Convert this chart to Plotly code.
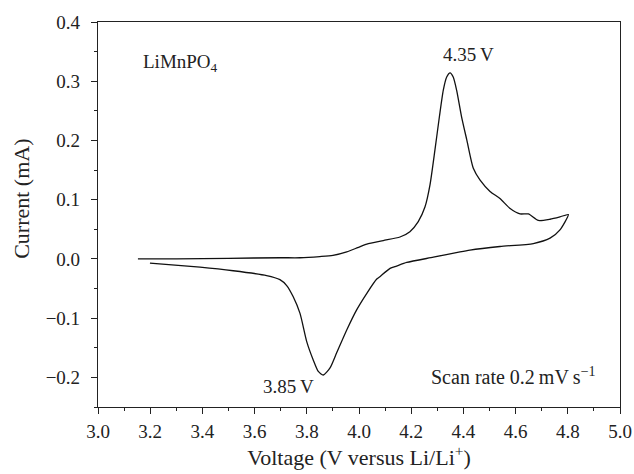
import plotly.graph_objects as go

# Anodic sweep (3.15 -> 4.8 V)
v_anodic = [3.153, 3.30, 3.50, 3.70, 3.774, 3.85, 3.90, 3.953, 3.995, 4.03, 4.093, 4.157, 4.195,
            4.227, 4.253, 4.272, 4.291, 4.308, 4.323, 4.336, 4.349, 4.361, 4.374, 4.393,
            4.413, 4.438, 4.464, 4.502, 4.540, 4.579, 4.617, 4.649, 4.687, 4.732, 4.770, 4.802]
i_anodic = [0.000, 0.000, 0.001, 0.002, 0.002, 0.004, 0.006, 0.012, 0.019, 0.025, 0.031, 0.037, 0.046,
            0.063, 0.088, 0.125, 0.184, 0.240, 0.285, 0.307, 0.314, 0.307, 0.285, 0.240,
            0.201, 0.153, 0.133, 0.114, 0.102, 0.085, 0.076, 0.076, 0.065, 0.067, 0.071, 0.075]
# Cathodic sweep (4.8 -> 3.2 V)
v_cathodic = [4.802, 4.770, 4.732, 4.668, 4.540, 4.425, 4.387, 4.285, 4.183, 4.144, 4.119, 4.080,
              4.068, 4.030, 3.991, 3.953, 3.914, 3.889, 3.863, 3.844, 3.825, 3.800, 3.774,
              3.748, 3.723, 3.697, 3.646, 3.518, 3.391, 3.199]
i_cathodic = [0.075, 0.049, 0.035, 0.026, 0.021, 0.015, 0.012, 0.003, -0.006, -0.012, -0.016, -0.030,
              -0.034, -0.058, -0.086, -0.120, -0.159, -0.184, -0.196, -0.190, -0.171, -0.140, -0.092,
              -0.064, -0.045, -0.035, -0.028, -0.020, -0.014, -0.007]

x_ticks = [3.0, 3.2, 3.4, 3.6, 3.8, 4.0, 4.2, 4.4, 4.6, 4.8, 5.0]
x_tick_labels = ["3.0", "3.2", "3.4", "3.6", "3.8", "4.0", "4.2", "4.4", "4.6", "4.8", "5.0"]
y_ticks = [-0.2, -0.1, 0.0, 0.1, 0.2, 0.3, 0.4]
y_tick_labels = ["\u22120.2", "\u22120.1", "0.0", "0.1", "0.2", "0.3", "0.4"]

FONT = "Liberation Serif, DejaVu Serif, serif"
INK = "#222222"

fig = go.Figure()
fig.add_trace(go.Scatter(
    x=v_anodic + v_cathodic[1:], y=i_anodic + i_cathodic[1:],
    mode="lines", line=dict(color="#111111", width=1.3, shape="spline", smoothing=0.6),
    showlegend=False, hoverinfo="skip"))

axis_common = dict(showline=True, linecolor=INK, linewidth=1.2, mirror=True,
                   showgrid=False, zeroline=False, ticks="outside", tickcolor=INK,
                   tickwidth=1.2, ticklen=6, automargin=False,
                   tickfont=dict(family=FONT, size=19, color=INK))

fig.update_xaxes(range=[3.0, 5.0], tickvals=x_ticks, ticktext=x_tick_labels,
                 ticklabelstandoff=1,
                 minor=dict(ticks="outside", dtick=0.1, ticklen=3, tickcolor=INK, tickwidth=1.2),
                 title=dict(text="Voltage (V versus Li/Li<sup>+</sup>)",
                            font=dict(family=FONT, size=22, color=INK), standoff=4),
                 **axis_common)
fig.update_yaxes(range=[-0.25, 0.4], tickvals=y_ticks, ticktext=y_tick_labels,
                 ticklabelstandoff=7,
                 minor=dict(ticks="outside", dtick=0.05, ticklen=3, tickcolor=INK, tickwidth=1.2),
                 **axis_common)

ann_font = dict(family=FONT, size=19, color=INK)
# y-axis title (placed slightly above the plot's vertical centre, as in the source)
fig.add_annotation(xref="paper", yref="paper", x=-0.148, y=0.54, text="Current (mA)",
                   textangle=-90, showarrow=False, xanchor="center", yanchor="middle",
                   font=dict(family=FONT, size=22, color=INK))
fig.add_annotation(x=3.165, y=0.33, text="LiMnPO<sub>4</sub>", showarrow=False,
                   xanchor="left", yanchor="middle", font=ann_font)
fig.add_annotation(x=4.42, y=0.345, text="4.35\u2009V", showarrow=False,
                   xanchor="center", yanchor="middle", font=ann_font)
fig.add_annotation(x=3.728, y=-0.215, text="3.85\u2009V", showarrow=False,
                   xanchor="center", yanchor="middle", font=ann_font)
fig.add_annotation(x=4.915, y=-0.197, text="Scan rate 0.2\u2009mV\u2009s<sup>\u22121</sup>", showarrow=False,
                   xanchor="right", yanchor="middle", font=dict(family=FONT, size=20, color=INK))

fig.update_layout(width=634, height=474, margin=dict(l=98, r=14, t=22, b=67),
                  plot_bgcolor="white", paper_bgcolor="white",
                  font=dict(family=FONT, color=INK))

fig.write_html("out.html", config={"displayModeBar": False},
               post_script="document.body.style.margin='0';")
